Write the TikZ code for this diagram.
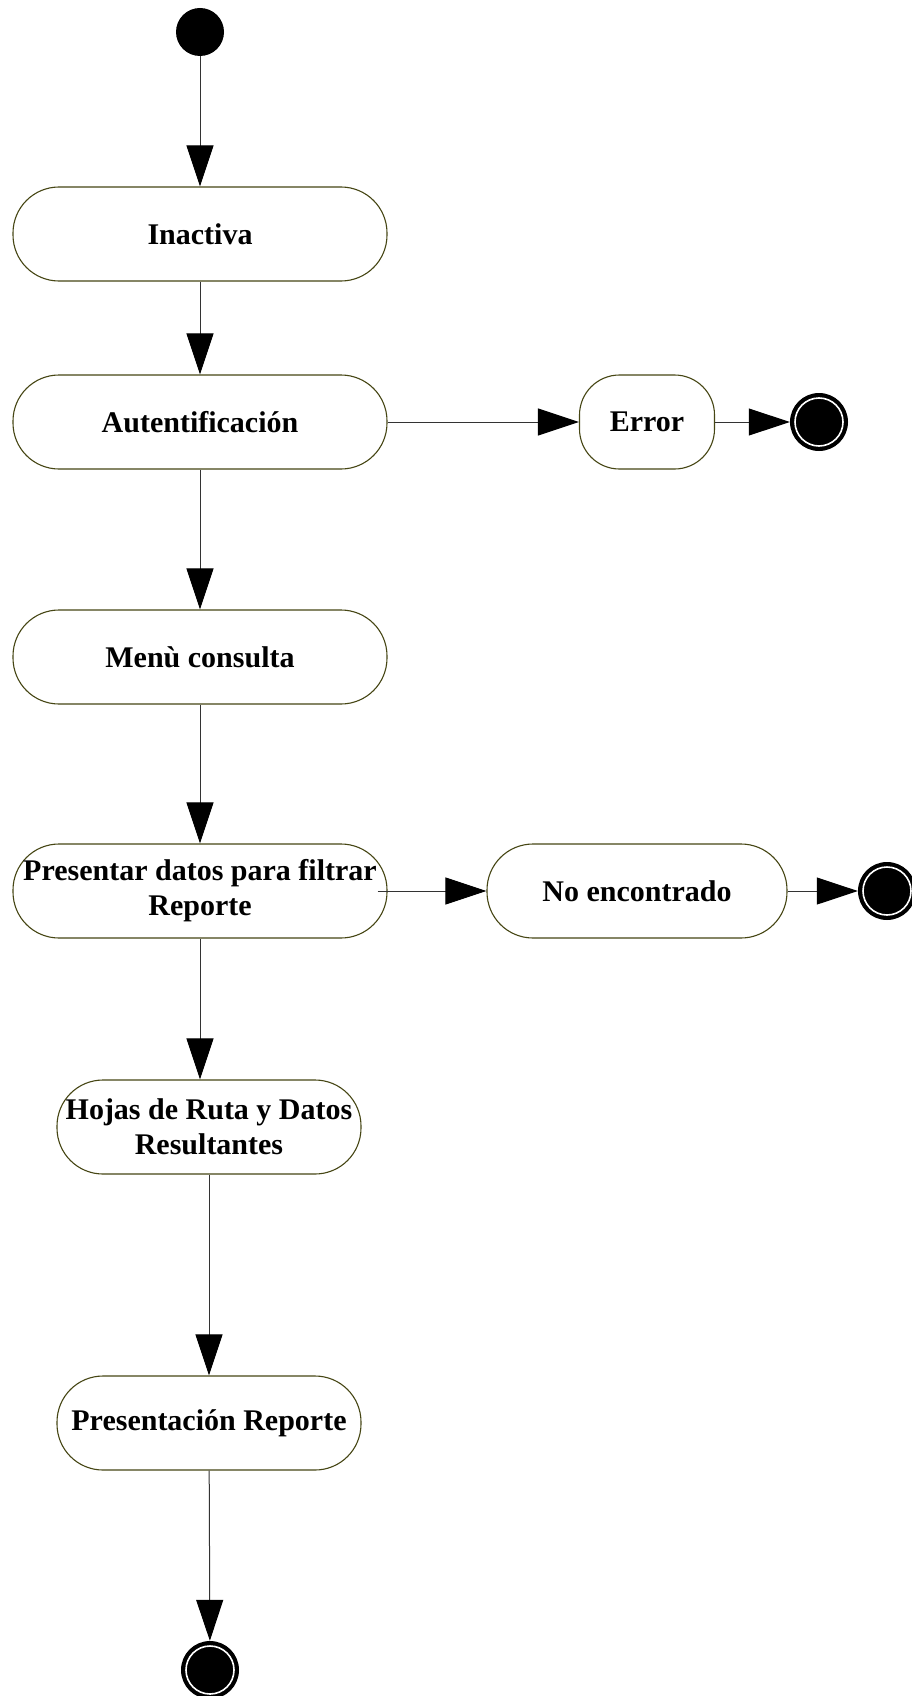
\documentclass[tikz,border=0pt]{standalone}
\usepackage{fontspec}
\setmainfont{Liberation Serif}
\usetikzlibrary{arrows.meta}

\definecolor{stateline}{RGB}{70,70,20}

\begin{document}
\begin{tikzpicture}[x=1pt,y=-1pt,
    state/.style={draw=stateline,line width=1.1pt,fill=white,rounded corners=46pt,inner sep=0pt,
        minimum height=94pt,align=center,font=\fontsize{30}{35}\selectfont\bfseries},
    initstate/.style={circle,fill=black,minimum size=48pt,inner sep=0pt},
    endstate/.style={circle,fill=black,minimum size=58pt,inner sep=0pt,
        path picture={\draw[white,line width=1.6pt] (path picture bounding box.center) circle (24pt);}},
    flow/.style={-{Triangle[length=41pt,width=27pt,color=black]},line width=1pt,draw=black!80}]
    \useasboundingbox (0,0) rectangle (912,1696);

    \node[initstate] (ini) at (200,32) {};

    \node[state,minimum width=374pt] (inactiva) at (200,234) {Inactiva};
    \node[state,minimum width=374pt] (auten) at (200,422) {Autentificación};
    \node[state,minimum width=135pt,rounded corners=40pt] (error) at (647,422) {Error};
    \node[endstate] (finerror) at (819,422) {};
    \node[state,minimum width=374pt] (menu) at (200,657) {Menù consulta};
    \node[state,minimum width=374pt] (presentar) at (200,891) {Presentar datos para filtrar\\Reporte};
    \node[state,minimum width=300pt] (noenc) at (637,891) {No encontrado};
    \node[endstate] (finnoenc) at (887,891) {};
    \node[state,minimum width=304pt] (hojas) at (209,1127) {Hojas de Ruta y Datos\\Resultantes};
    \node[state,minimum width=304pt] (reporte) at (209,1423) {Presentación Reporte};
    \node[endstate] (fin) at (210,1670) {};

    \draw[flow] (ini) -- (inactiva);
    \draw[flow] (inactiva) -- (auten);
    \draw[flow] (auten) -- (error);
    \draw[flow] (error) -- (finerror);
    \draw[flow] (auten) -- (menu);
    \draw[flow] (menu) -- (presentar);
    \draw[flow] ([xshift=-10pt]presentar.east) -- (noenc);
    \draw[flow] (noenc) -- (finnoenc);
    \draw[flow] (presentar.south) -- (presentar.south |- hojas.north);
    \draw[flow] (hojas) -- (reporte);
    \draw[flow] (reporte) -- (fin);
\end{tikzpicture}
\end{document}
